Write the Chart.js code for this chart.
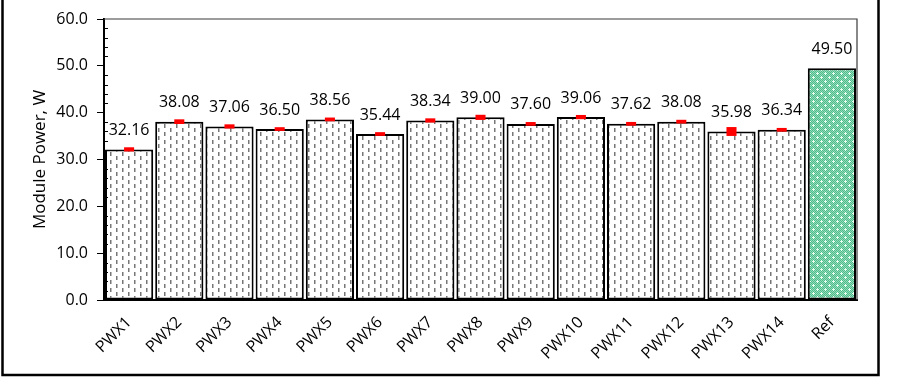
<!DOCTYPE html>
<html>
<head>
<meta charset="utf-8">
<script src="https://cdn.jsdelivr.net/npm/chart.js@4/dist/chart.umd.min.js"></script>
<style>
html,body{margin:0;padding:0;background:#fff;}
#wrap{width:897px;height:382px;position:relative;}
</style>
</head>
<body>
<div id="wrap"><canvas id="c" width="897" height="382"></canvas></div>
<script>
const categories = ["PWX1","PWX2","PWX3","PWX4","PWX5","PWX6","PWX7","PWX8","PWX9","PWX10","PWX11","PWX12","PWX13","PWX14","Ref"];
const modulePower = [32.16,38.08,37.06,36.50,38.56,35.44,38.34,39.00,37.60,39.06,37.62,38.08,35.98,36.34,49.50];
const errorHalf = [0.45,0.5,0.45,0.4,0.4,0.4,0.45,0.55,0.4,0.45,0.4,0.4,0.95,0.4,null];
const yTicks = [0,10,20,30,40,50,60];
const FONT = "'Open Sans', 'Liberation Sans', sans-serif";

function makePattern(draw, w, h){
  const c = document.createElement('canvas'); c.width = w; c.height = h;
  const g = c.getContext('2d'); draw(g);
  return document.getElementById('c').getContext('2d').createPattern(c,'repeat');
}
const dashPattern = makePattern(g=>{
  g.fillStyle='#ffffff'; g.fillRect(0,0,12,8);
  g.fillStyle='#777777';
  g.fillRect(2,0,1.5,4);
  g.fillRect(8,4,1.5,4);
},12,8);
const greenPattern = makePattern(g=>{
  for(let y=0;y<8;y++)for(let x=0;x<8;x++){
    g.fillStyle = ((x+y)%2===0)?'#4cbd8a':'#95dcbb';
    g.fillRect(x,y,1,1);
  }
  g.fillStyle='#eafff4';
  g.fillRect(1,0,1,3); g.fillRect(0,1,3,1);
  g.fillRect(5,4,1,3); g.fillRect(4,5,3,1);
},8,8);

const barColors = categories.map(c => c === 'Ref' ? greenPattern : dashPattern);
const errorRanges = modulePower.map((v,i) => errorHalf[i] == null ? null : [v - errorHalf[i], v + errorHalf[i]]);

const decor = {
  id:'decor',
  afterDatasetsDraw(chart){
    const ctx = chart.ctx, a = chart.chartArea, ys = chart.scales.y;
    ctx.save();
    ctx.strokeStyle='#3a3a3a'; ctx.lineWidth=1.2;
    ctx.beginPath();
    ctx.moveTo(a.left, a.top); ctx.lineTo(a.right, a.top); ctx.lineTo(a.right, a.bottom);
    ctx.stroke();
    ctx.strokeStyle='#000'; ctx.lineWidth=1;
    for(let v=0; v<=60; v+=2){
      if (v%10===0) continue;
      const y = Math.round(ys.getPixelForValue(v))+0.5;
      ctx.beginPath(); ctx.moveTo(a.left, y); ctx.lineTo(a.left+4, y); ctx.stroke();
    }
    const meta = chart.getDatasetMeta(1);
    ctx.fillStyle='#000'; ctx.font = "16px " + FONT;
    ctx.textAlign='center'; ctx.textBaseline='middle';
    meta.data.forEach((bar,i)=>{
      ctx.fillText(modulePower[i].toFixed(2), bar.x, bar.y - 19);
    });
    ctx.restore();
  },
  afterDraw(chart){
    const ctx = chart.ctx;
    ctx.save();
    ctx.strokeStyle='#000'; ctx.lineWidth=2.5;
    ctx.strokeRect(2.5,-10,876,385);
    ctx.restore();
  }
};

new Chart(document.getElementById('c'), {
  type:'bar',
  data:{
    labels: categories,
    datasets:[
      {
        label:'error', data: errorRanges, backgroundColor:'#ff0000', borderWidth:0,
        grouped:false, barPercentage:0.2, categoryPercentage:1, order:0
      },
      {
        label:'Module Power', data: modulePower, backgroundColor: barColors,
        borderColor:'#000', borderWidth:2, borderSkipped:false,
        grouped:false, barPercentage:0.96, categoryPercentage:1, order:1
      }
    ]
  },
  options:{
    responsive:false, animation:false,
    devicePixelRatio:1,
    layout:{padding:{left:0,right:40,top:19,bottom:0}},
    plugins:{legend:{display:false}, tooltip:{enabled:false}},
    scales:{
      x:{
        grid:{display:false},
        border:{display:true,color:'#000',width:2},
        ticks:{color:'#000', font:{family:FONT,size:16}, minRotation:45, maxRotation:45, autoSkip:false, padding:5},
        afterFit(s){ s.height = 82; }
      },
      y:{
        min:0, max:60,
        afterBuildTicks(s){ s.ticks = yTicks.map(v=>({value:v})); },
        grid:{drawOnChartArea:false, drawTicks:true, tickLength:7, color:'#000', lineWidth:1},
        border:{display:true,color:'#000',width:2},
        ticks:{color:'#000', font:{family:FONT,size:16}, padding:9, callback:v=>Number(v).toFixed(1)},
        title:{display:true, text:'Module Power, W', color:'#000', font:{family:FONT,size:17}, padding:{top:30,bottom:0}},
        afterFit(s){ s.width = 104; }
      }
    }
  },
  plugins:[decor]
});
</script>
</body>
</html>
